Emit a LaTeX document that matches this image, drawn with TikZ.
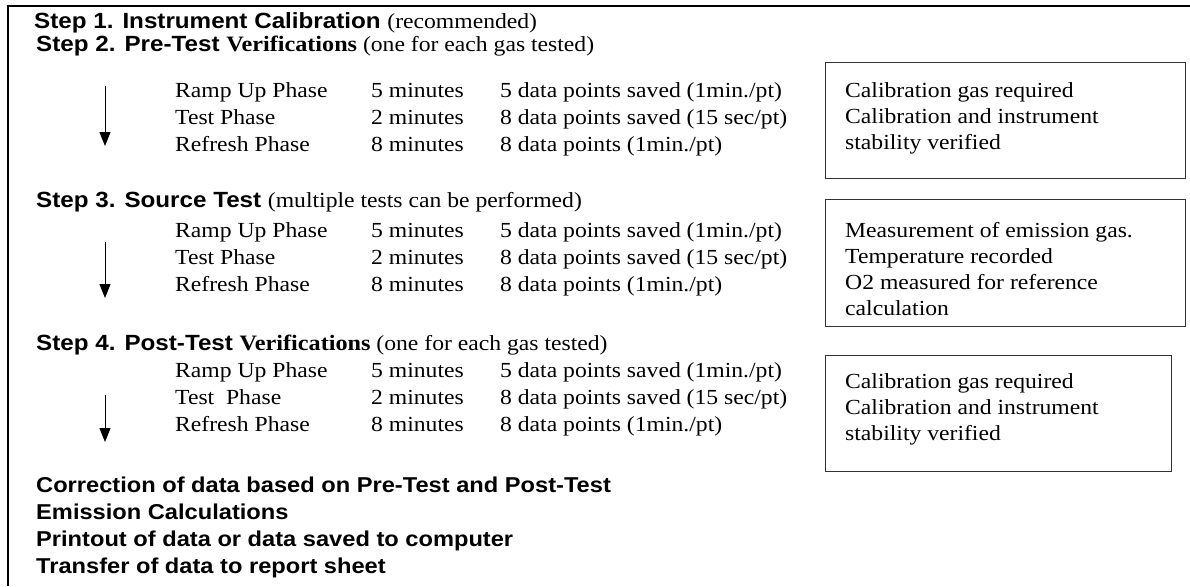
\documentclass[tikz,border=0pt]{standalone}
\usepackage{fontspec}
\setmainfont{Liberation Serif}[FakeStretch=1.1]
\newfontfamily\hsans{Liberation Sans}[FakeStretch=1.1]
\usetikzlibrary{arrows.meta}
\begin{document}
\begin{tikzpicture}[x=1pt,y=-1pt,
  every node/.style={inner sep=0pt, anchor=base west},
  hd/.style={font=\hsans\bfseries\fontsize{22}{26}\selectfont},
  ft/.style={font=\hsans\bfseries\fontsize{21.5}{26}\selectfont},
  tx/.style={font=\fontsize{21.5}{26}\selectfont},
  frameline/.style={line width=2pt},
  infobox/.style={draw=black!80, line width=1.3pt, anchor=north west},
  flow/.style={line width=1pt, -{Triangle[length=14pt,width=11pt]}}]
\useasboundingbox (0,0) rectangle (1190,586);
% frame
\coordinate (fl) at (8,586);
\coordinate (fc) at (8,6);
\coordinate (fr) at (1190,6);
\draw[frameline] (fl) -- (fc) -- (fr);

% headings
\node[hd] (s1) at (34,29) {Step 1. Instrument Calibration \normalfont\fontsize{21.5}{26}\selectfont(recommended)};
\node[hd] (s2) at (36,52) {Step 2. Pre-Test {\normalfont\bfseries Verifications}\normalfont\fontsize{21.5}{26}\selectfont\ (one for each gas tested)};
\node[hd] (s3) at (36,207) {Step 3. Source Test \normalfont\fontsize{21.5}{26}\selectfont(multiple tests can be performed)};
\node[hd] (s4) at (36,350) {Step 4. Post-Test {\normalfont\bfseries Verifications}\normalfont\fontsize{21.5}{26}\selectfont\ (one for each gas tested)};

% phase rows
\newcommand\prow[5]{%
  \node[tx] (#1a) at (175,#2) {#3};
  \node[tx] (#1b) at (371,#2) {#4};
  \node[tx] (#1c) at (500,#2) {#5};}
\prow{p2r1}{97}{Ramp Up Phase}{5 minutes}{5 data points saved (1min./pt)}
\prow{p2r2}{124}{Test Phase}{2 minutes}{8 data points saved (15 sec/pt)}
\prow{p2r3}{151}{Refresh Phase}{8 minutes}{8 data points (1min./pt)}
\prow{p3r1}{237}{Ramp Up Phase}{5 minutes}{5 data points saved (1min./pt)}
\prow{p3r2}{264}{Test Phase}{2 minutes}{8 data points saved (15 sec/pt)}
\prow{p3r3}{291}{Refresh Phase}{8 minutes}{8 data points (1min./pt)}
\prow{p4r1}{377}{Ramp Up Phase}{5 minutes}{5 data points saved (1min./pt)}
\prow{p4r2}{404}{Test\ \ Phase}{2 minutes}{8 data points saved (15 sec/pt)}
\prow{p4r3}{431}{Refresh Phase}{8 minutes}{8 data points (1min./pt)}

% arrows
\coordinate (a1s) at (105,86);  \coordinate (a1e) at (105,146);
\coordinate (a2s) at (105,242); \coordinate (a2e) at (105,298);
\coordinate (a3s) at (105,395); \coordinate (a3e) at (105,442);
\draw[flow] (a1s) -- (a1e);
\draw[flow] (a2s) -- (a2e);
\draw[flow] (a3s) -- (a3e);

% boxes
\node[infobox, minimum width=360pt, minimum height=116pt] (b1) at (825,62) {};
\node[tx] (b1t1) at (845,97) {Calibration gas required};
\node[tx] (b1t2) at (845,123) {Calibration and instrument};
\node[tx] (b1t3) at (845,149) {stability verified};

\node[infobox, minimum width=360pt, minimum height=127pt] (b2) at (825,199) {};
\node[tx] (b2t1) at (845,237) {Measurement of emission gas.};
\node[tx] (b2t2) at (845,263) {Temperature recorded};
\node[tx] (b2t3) at (845,289) {O2 measured for reference};
\node[tx] (b2t4) at (845,315) {calculation};

\node[infobox, minimum width=346pt, minimum height=116pt] (b3) at (825,355) {};
\node[tx] (b3t1) at (845,388) {Calibration gas required};
\node[tx] (b3t2) at (845,414) {Calibration and instrument};
\node[tx] (b3t3) at (845,440) {stability verified};

% final lines
\node[ft] (f1) at (36,492) {Correction of data based on Pre-Test and Post-Test};
\node[ft] (f2) at (36,519) {Emission Calculations};
\node[ft] (f3) at (36,546) {Printout of data or data saved to computer};
\node[ft] (f4) at (36,573) {Transfer of data to report sheet};
\end{tikzpicture}
\end{document}
